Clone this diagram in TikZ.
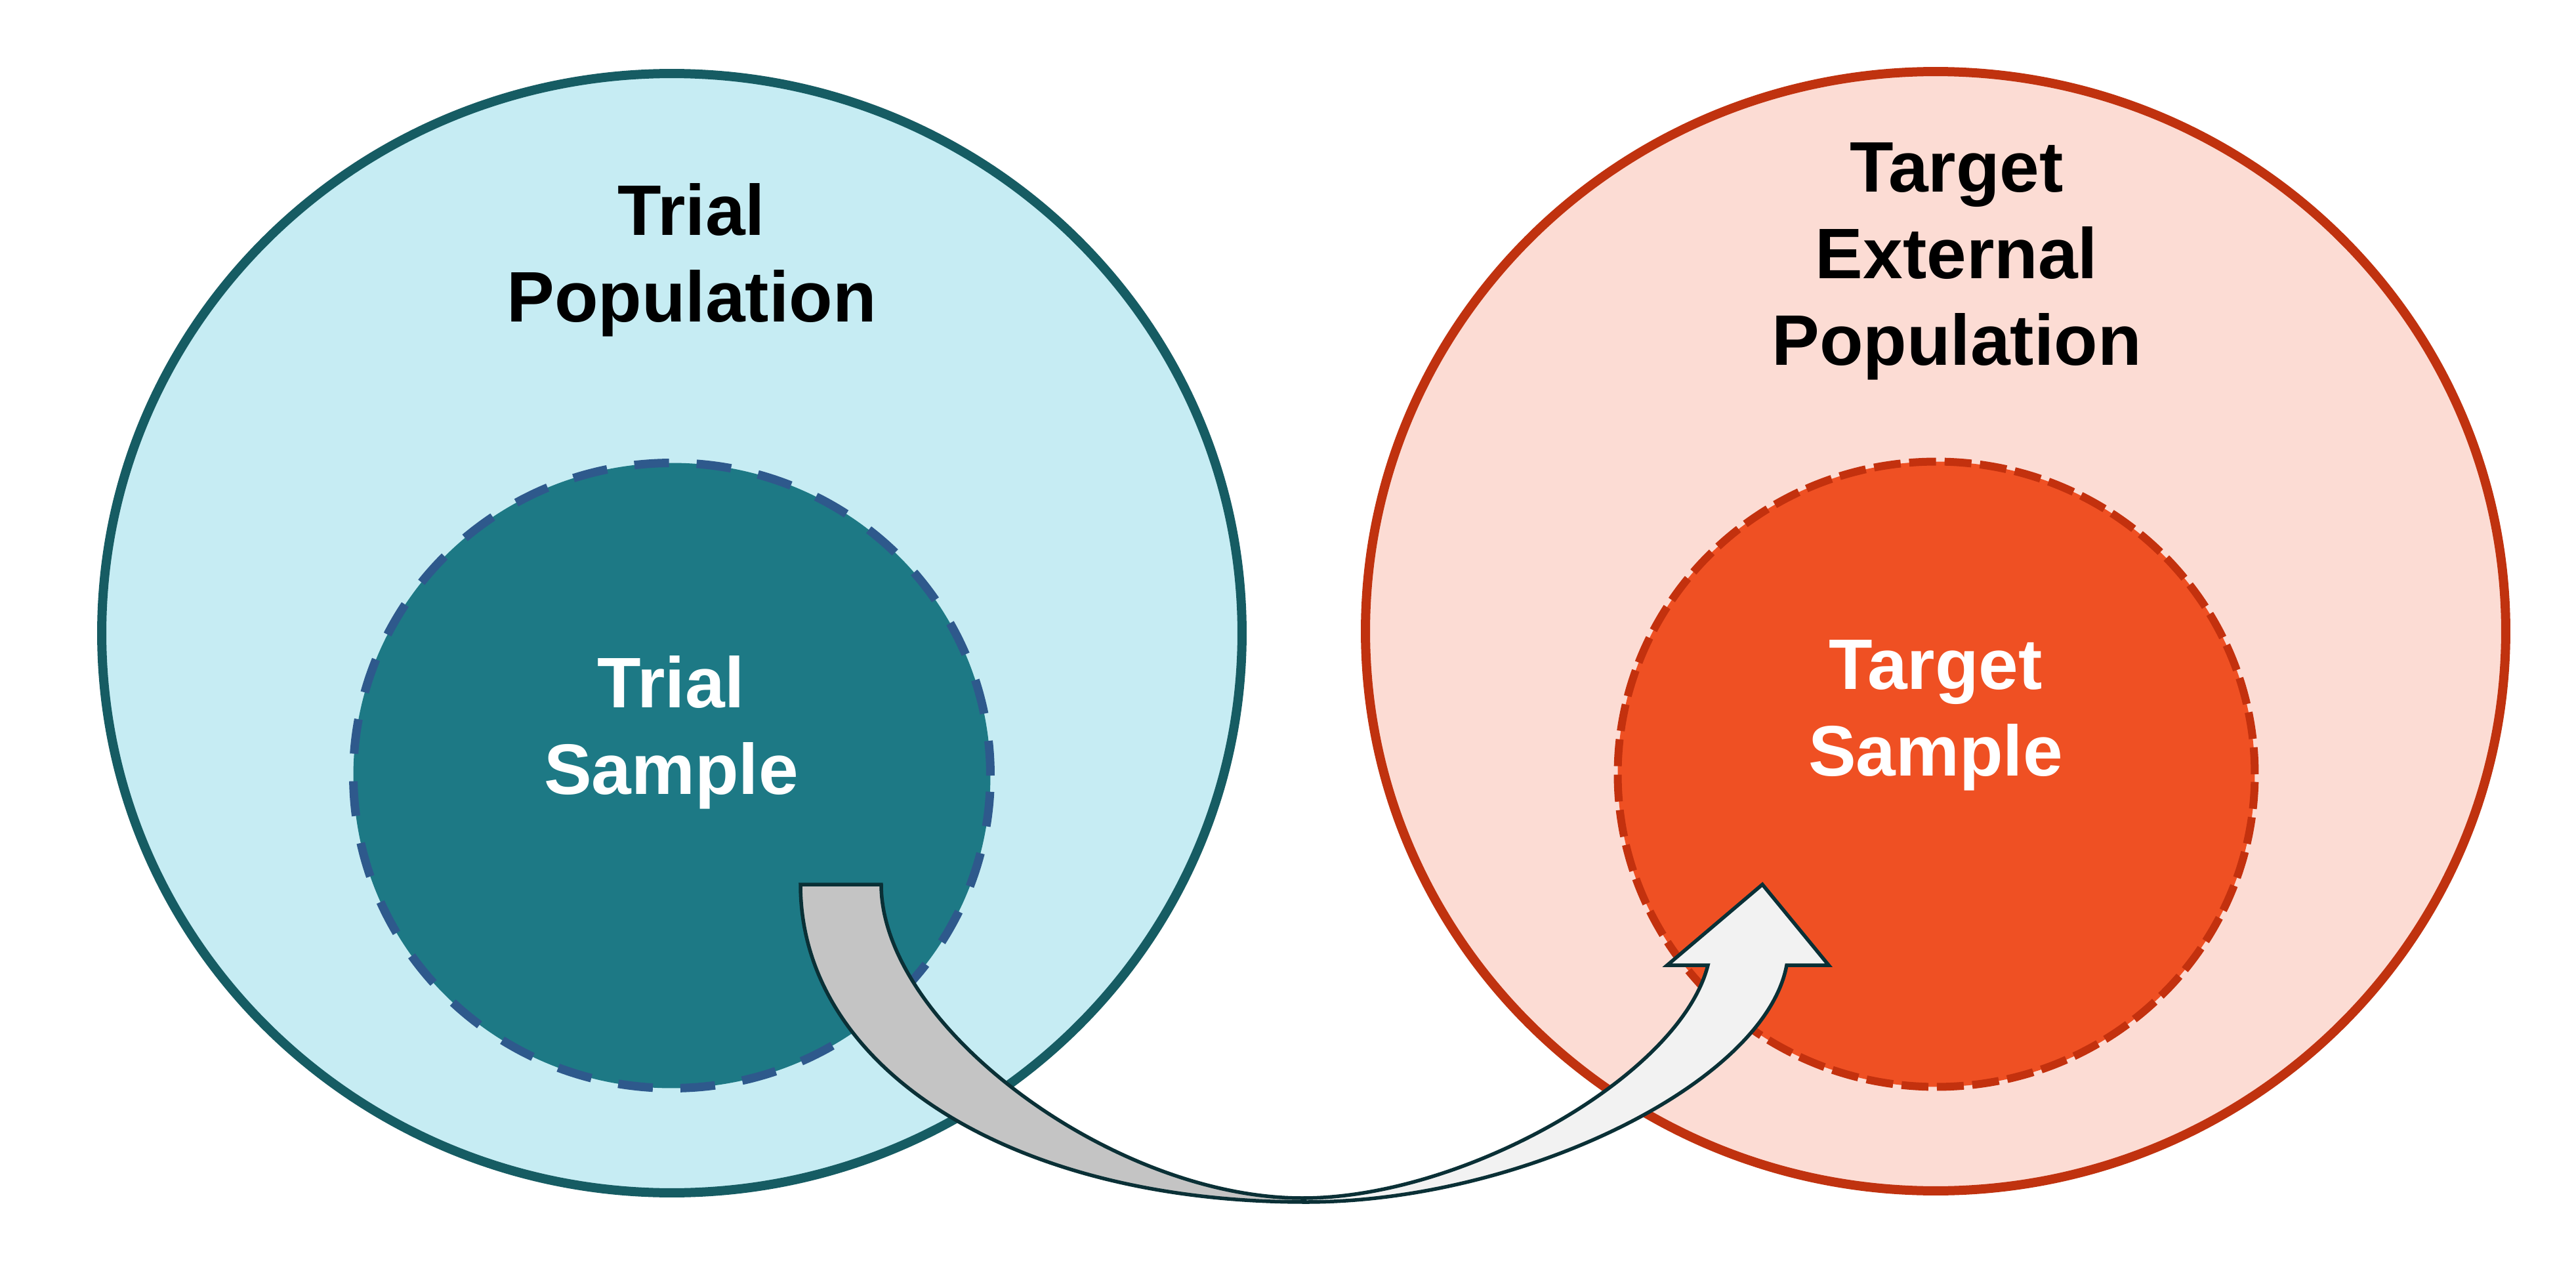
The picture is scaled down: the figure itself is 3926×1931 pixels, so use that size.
\documentclass[tikz,border=0pt]{standalone}
\usepackage{fontspec}
\setmainfont{Liberation Sans}
\usetikzlibrary{shapes.geometric}
\definecolor{tpopfill}{HTML}{C6ECF3}
\definecolor{tpopline}{HTML}{165C63}
\definecolor{tsampfill}{HTML}{1D7985}
\definecolor{tsampline}{HTML}{2E598C}
\definecolor{xpopfill}{HTML}{FCDCD4}
\definecolor{xpopline}{HTML}{C0320F}
\definecolor{xsampfill}{HTML}{EF5023}
\definecolor{xsampline}{HTML}{C3310E}
\definecolor{arrgray}{HTML}{C4C4C4}
\definecolor{arrlight}{HTML}{F2F2F2}
\definecolor{arrline}{HTML}{0A3036}
\begin{document}
\begin{tikzpicture}[x=0.1pt,y=0.1pt,
  popcirc/.style={ellipse, inner sep=0pt, line width=1.4pt,
    minimum width=173.8pt, minimum height=170.6pt},
  sampcirc/.style={ellipse, inner sep=0pt, line width=1.2pt,
    minimum width=97.1pt, minimum height=95.3pt},
  lbl/.style={font=\bfseries\fontsize{10.9}{13.2}\selectfont, align=center, inner sep=0pt},
  arrpart/.style={draw=arrline, line width=0.55pt, line join=miter}]
\fill[white] (0,0) rectangle (3926,-1931);
\useasboundingbox (0,0) rectangle (3926,-1931);
% populations
\node[popcirc, fill=tpopfill, draw=tpopline] (trialpop) at (1024,-965) {};
\node[popcirc, fill=xpopfill, draw=xpopline] (targetpop) at (2950,-962) {};
% samples
\node[sampcirc, fill=tsampfill, draw=tsampline, line width=1.3pt,
  dash pattern=on 5.3pt off 4.2pt] (trialsamp) at (1024,-1182) {};
\node[sampcirc, fill=xsampfill, draw=xsampline,
  dash pattern=on 4.1pt off 1.3pt] (targetsamp) at (2951,-1180) {};
% labels
\node[lbl] (trialpoplbl) at (1054,-396) {Trial\\Population};
\node[lbl] (targetpoplbl) at (2982,-398) {Target\\External\\Population};
\node[lbl, text=white] (trialsamplbl) at (1023,-1116) {Trial\\Sample};
\node[lbl, text=white] (targetsamplbl) at (2950,-1090) {Target\\Sample};
% curved arrow: grey part leaving the trial sample
\path[arrpart, fill=arrgray]
  (1220,-1348) -- (1343,-1348)
  .. controls (1343,-1563) and (1696,-1826) .. (1985,-1826)
  -- (1990,-1832)
  .. controls (1543,-1832) and (1220,-1629) .. (1220,-1348) -- cycle;
% light part ending in the target sample
\path[arrpart, fill=arrlight]
  (1985,-1826)
  .. controls (2230,-1826) and (2560,-1640) .. (2603,-1471)
  -- (2541,-1471) -- (2686,-1348) -- (2787,-1471) -- (2723,-1471)
  .. controls (2690,-1650) and (2320,-1832) .. (1990,-1832) -- cycle;
\end{tikzpicture}
\end{document}
